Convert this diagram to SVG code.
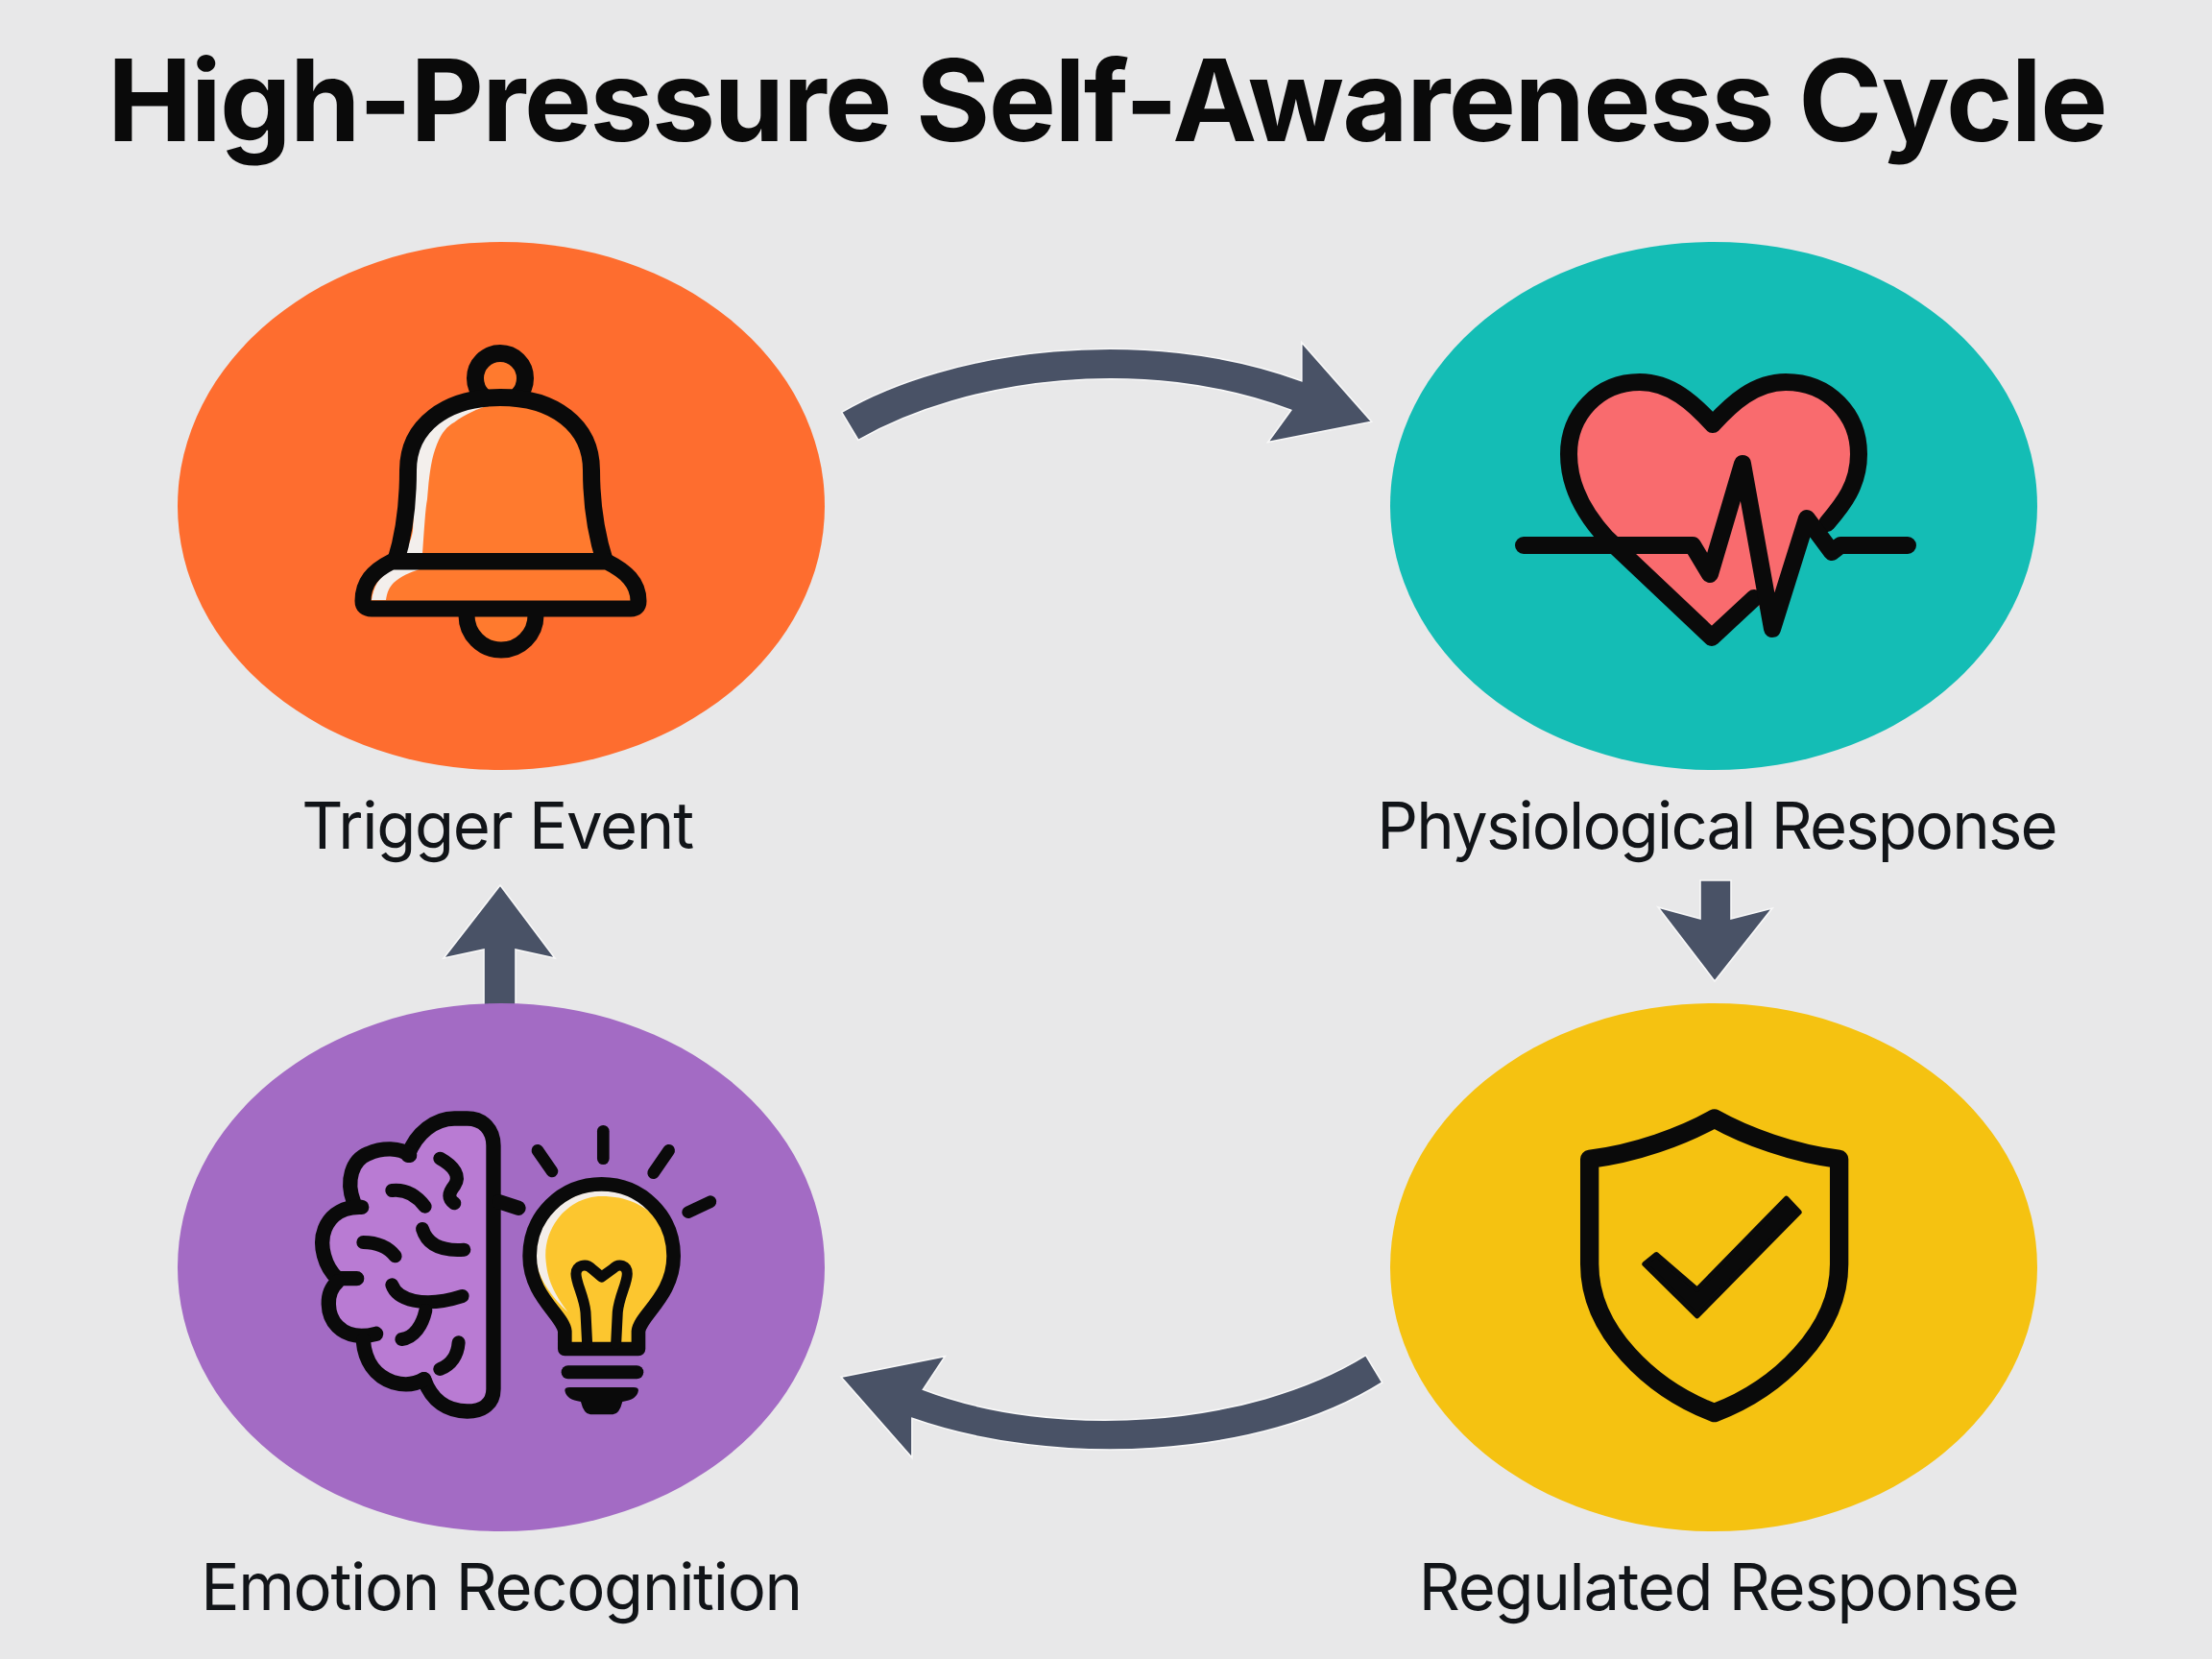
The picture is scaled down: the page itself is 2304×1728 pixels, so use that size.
<svg xmlns="http://www.w3.org/2000/svg" width="2304" height="1728" viewBox="0 0 2304 1728">
<style>
.t{font-family:"Inter","Liberation Sans",sans-serif;fill:#111418;text-anchor:middle}
.title{font-size:118px;font-weight:700;fill:#0a0a0a;letter-spacing:-1.6px}
.lab{font-size:67px;font-weight:400;letter-spacing:-1.3px}
.arr{fill:#495266;stroke:#f8f8f8;stroke-width:1.6}
.k{fill:none;stroke:#0a0a0a;stroke-linecap:round;stroke-linejoin:round}
</style>
<rect width="2304" height="1728" fill="#e8e8e9"/>
<text id="title" class="t title" x="1153" y="147">High-Pressure Self-Awareness Cycle</text>
<g id="connectors">
<path class="arr" transform="translate(860,340) scale(.37,.3333)" vector-effect="non-scaling-stroke" d="M45,268C350,70 900,-10 1340,170V50L1537,298L1245,362L1310,262C900,90 400,160 92,355Z"/>
<path class="arr" d="M1771,917H1803V957L1846,946L1786,1022L1727,945L1771,957Z"/>
<path class="arr" transform="translate(860,1390) scale(.3827,.3333)" vector-effect="non-scaling-stroke" d="M1470,65C1150,293 620,328 265,172L325,68L42,133L235,385V262C620,418 1180,393 1515,150Z"/>
<path class="arr" d="M521,922L578,998L537,989V1050H504V989L462,998Z"/>
</g>
<g id="node-trigger">
<ellipse cx="522" cy="527" rx="337" ry="275" fill="#fe6d2f"/>
<circle cx="521" cy="394" r="26" fill="#ff7a2e" stroke="#0a0a0a" stroke-width="18"/>
<path fill="#ff7a2e" d="M412,585C420,560 425,530 425,490C425,443 465,414 521,414C577,414 616,443 616,490C616,530 622,560 630,585Z"/>
<path fill="#f3efec" d="M419,579L440,577C442,550 443,530 445,520C447,495 449,478 455,463C460,450 466,444 473,440C485,431 497,426 510,422C495,421 484,423 473,427C460,433 450,443 443,453C437,465 434,475 433,487C432,510 431,530 430,553C428,565 423,572 419,579Z"/>
<path d="M412,585C420,560 425,530 425,490C425,443 465,414 521,414C577,414 616,443 616,490C616,530 622,560 630,585Z" fill="none" stroke="#0a0a0a" stroke-width="18" stroke-linejoin="round"/>
<path d="M486,641A36,36 0 0 0 558,641" fill="#ff7a2e" stroke="#0a0a0a" stroke-width="17"/>
<path fill="#ff7a2e" d="M408,585H632C652,595 665,607 665,626Q665,634 657,634H387Q378,634 378,626C378,607 388,595 408,585Z"/>
<path fill="#f3efec" d="M387,625H402C403,618 405,612 410,607C418,600 427,596 437,593H410C402,596 397,601 393,607C390,612 388,618 387,625Z"/>
<path d="M408,585H632C652,595 665,607 665,626Q665,634 657,634H387Q378,634 378,626C378,607 388,595 408,585Z" fill="none" stroke="#0a0a0a" stroke-width="17" stroke-linejoin="round"/>
<text class="t lab" x="518" y="884">Trigger Event</text>
</g>
<g id="node-physiological">
<ellipse cx="1785" cy="527" rx="337" ry="275" fill="#14bdb5"/>
<path fill="#f96b6e" d="M1784,442C1764,428 1740,398 1708,398C1665,398 1634,432 1634,473C1634,505 1650,535 1673,560L1783,664L1827,623L1846,655L1882,540L1903,545C1920,525 1936,505 1936,473C1936,432 1905,398 1860,398C1828,398 1804,428 1784,442Z"/>
<path class="k" stroke-width="18" d="M1827,623L1783,664L1673,560C1650,535 1634,505 1634,473C1634,432 1665,398 1708,398C1740,398 1764,420 1784,442C1804,420 1828,398 1860,398C1905,398 1936,432 1936,473C1936,505 1920,525 1903,545"/>
<path class="k" stroke-width="18" d="M1587,568H1763L1781,598L1815,483L1846,655L1882,540L1908,575L1917,568H1987"/>
<text class="t lab" x="1788" y="884" style="letter-spacing:-1.85px">Physiological Response</text>
</g>
<g id="node-regulated">
<ellipse cx="1785" cy="1320" rx="337" ry="275" fill="#f5c211"/>
<g transform="translate(1620,1130) scale(.3333)">
<path fill="none" stroke="#0a0a0a" stroke-width="58" stroke-linejoin="round" d="M497,105C400,160 250,215 107,232V560C107,770 300,950 497,1025C695,950 887,770 887,560V232C745,215 595,160 497,105Z"/>
<path fill="#0a0a0a" stroke="#0a0a0a" stroke-width="16" stroke-linejoin="round" d="M316,530L443,640L722,355L762,398L443,722L279,560Z"/>
</g>
<text class="t lab" x="1790" y="1677">Regulated Response</text>
</g>
<g id="node-emotion">
<ellipse cx="522" cy="1320" rx="337" ry="275" fill="#a36bc4"/>
<g transform="translate(310,1140) scale(.3333)">
<path fill="#b97bd3" d="M345,190C370,120 430,75 490,75H530C580,75 612,110 612,160V920C612,965 580,990 530,990C470,990 420,960 395,890C340,915 280,910 240,870C215,845 205,810 205,775C170,770 145,750 125,725C90,690 85,630 120,585C85,540 65,470 85,420C105,370 130,355 175,335C150,270 170,205 220,185C265,165 320,165 345,190Z"/>
<g class="k" stroke-width="46">
<path d="M345,190C370,120 430,75 490,75H530C580,75 612,110 612,160V920C612,965 580,990 530,990C470,990 420,960 395,890"/>
<path d="M350,190C320,165 265,165 220,185C170,205 150,270 175,335"/>
<path d="M200,352C150,350 105,370 85,420C65,470 85,540 125,575H185"/>
<path d="M125,585C85,620 90,690 125,725C155,755 200,760 245,748"/>
<path d="M205,770C210,830 240,880 300,900C335,910 370,905 395,890"/>
<path d="M630,335L690,355"/>
</g>
<g class="k" stroke-width="42">
<path d="M445,200C490,225 510,255 490,285C470,310 470,325 490,340"/>
<path d="M295,300C340,295 375,320 398,350"/>
<path d="M390,420C405,470 450,490 520,485"/>
<path d="M205,462C250,462 285,480 305,505"/>
<path d="M295,595C310,640 390,670 515,630"/>
<path d="M400,675C390,720 365,760 325,765"/>
<path d="M503,775C500,815 480,845 445,858"/>
</g>
<path fill="#fcc62f" d="M835,795V740C830,690 725,630 725,505C725,380 825,280 950,280C1075,280 1175,380 1175,505C1175,630 1070,690 1065,740V795Z"/>
<path fill="#f4eee8" d="M745,505C745,390 840,300 950,300C1040,300 1120,350 1150,430C1110,355 1040,318 950,318C850,318 770,410 775,510C780,580 800,620 845,680C800,640 745,570 745,505Z"/>
<path class="k" stroke-width="44" d="M835,795V740C830,690 725,630 725,505C725,380 825,280 950,280C1075,280 1175,380 1175,505C1175,630 1070,690 1065,740V795Z"/>
<path class="k" stroke-width="33" d="M905,780L900,680C895,630 870,590 870,560C870,535 900,525 920,545L950,570L985,545C1005,525 1030,535 1030,560C1030,590 1005,630 1000,680L995,780"/>
<path class="k" stroke-width="42" d="M845,868H1060"/>
<path fill="#0a0a0a" d="M835,925Q835,915 850,915H1050Q1065,915 1065,925Q1060,955 1015,960Q1005,1000 985,1000H915Q895,1000 885,960Q840,955 835,925Z"/>
<g class="k" stroke-width="38">
<path d="M750,175L795,240"/>
<path d="M955,115V200"/>
<path d="M1160,175L1112,245"/>
<path d="M1220,368L1290,335"/>
</g>
</g>
<text class="t lab" x="522" y="1677">Emotion Recognition</text>
</g>
</svg>
